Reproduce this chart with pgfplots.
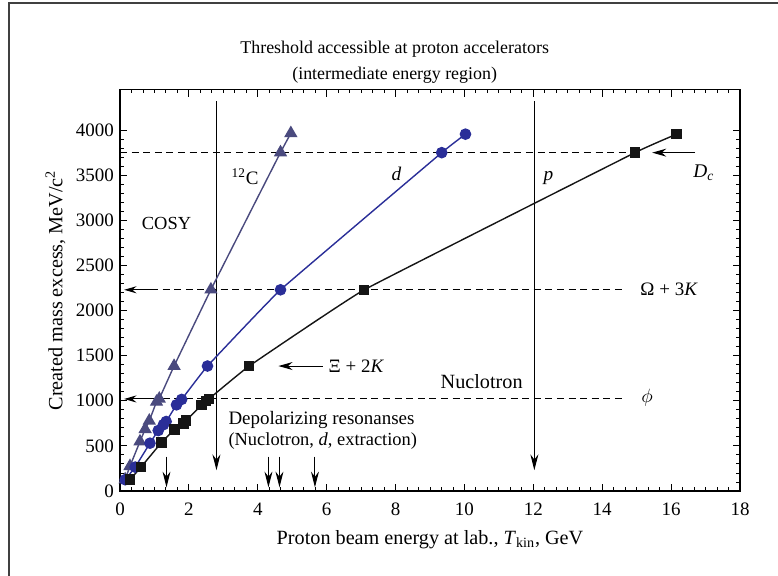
\documentclass[border=0pt]{standalone}
\usepackage{fontspec}
\setmainfont{Liberation Serif}
\usepackage{pgfplots}
\pgfplotsset{compat=1.18}
\usetikzlibrary{arrows.meta}
\definecolor{cC}{HTML}{4A4A7E}
\definecolor{cD}{HTML}{2A2E98}
\definecolor{cP}{HTML}{151515}
\begin{document}
\begin{tikzpicture}
\useasboundingbox (0,0) rectangle (15.56cm,11.52cm);
\draw[black!75, line width=0.6pt] (0.18cm,-1pt) -- (0.18cm,11.46cm) -- (15.6cm,11.46cm);
\begin{axis}[
  at={(2.4cm,1.7cm)}, anchor=south west,
  scale only axis, width=12.4cm, height=8.03cm,
  xmin=0, xmax=18, ymin=0, ymax=4450,
  xtick={0,2,...,18}, ytick={0,500,...,4000},
  minor x tick num=5, minor y tick num=4,
  tick align=inside,
  major tick length=4pt, minor tick length=2.2pt,
  every tick/.style={black, line width=0.5pt},
  axis line style={line width=0.7pt},
  /pgf/number format/assume math mode=true,
  /pgf/number format/1000 sep={},
  ticklabel style={font=\fontsize{10.8}{12}\selectfont},
  xticklabel style={yshift=-3.5pt},
  xlabel={Proton beam energy at lab., \textit{T}\textsubscript{kin}, GeV},
  ylabel={Created mass excess, MeV/c\textsuperscript{2}},
  label style={font=\fontsize{11.5}{13}\selectfont},
  xlabel style={yshift=-1pt},
  ylabel style={yshift=-1pt},
  title={Threshold accessible at proton accelerators\\[2.5pt](intermediate energy region)},
  title style={at={(axis description cs:0.443,1)}, anchor=south, align=center, yshift=-6pt, font=\fontsize{10.2}{12}\selectfont},
  clip=false,
]
% dashed threshold lines
\draw[dashed, dash pattern=on 4pt off 2.6pt, line width=0.6pt] (axis cs:0,3750) -- (axis cs:14.8,3750);
\draw[dashed, dash pattern=on 4pt off 2.6pt, line width=0.6pt] (axis cs:0.9,2230) -- (axis cs:14.66,2230);
\draw[dashed, dash pattern=on 4pt off 2.6pt, line width=0.6pt] (axis cs:0.9,1020) -- (axis cs:14.66,1020);
\draw[line width=0.6pt, -{Stealth[length=7pt,width=4pt]}] (axis cs:1.0,2230) -- (axis cs:0.12,2230);
\draw[line width=0.6pt, -{Stealth[length=7pt,width=4pt]}] (axis cs:1.0,1020) -- (axis cs:0.12,1020);
% vertical arrows
\draw[line width=0.6pt, -{Stealth[length=9pt,width=4.5pt]}] (axis cs:2.8,4320) -- (axis cs:2.8,230);
\draw[line width=0.6pt, -{Stealth[length=9pt,width=4.5pt]}] (axis cs:12.03,4320) -- (axis cs:12.03,230);
\draw[line width=0.6pt, -{Stealth[length=9pt,width=4.5pt]}] (axis cs:1.35,380) -- (axis cs:1.35,40);
\draw[line width=0.6pt, -{Stealth[length=9pt,width=4.5pt]}] (axis cs:4.31,380) -- (axis cs:4.31,40);
\draw[line width=0.6pt, -{Stealth[length=9pt,width=4.5pt]}] (axis cs:4.63,380) -- (axis cs:4.63,40);
\draw[line width=0.6pt, -{Stealth[length=9pt,width=4.5pt]}] (axis cs:5.66,380) -- (axis cs:5.66,40);
% other arrows
\draw[line width=0.6pt, -{Stealth[length=8pt,width=4.5pt]}] (axis cs:16.7,3750) -- (axis cs:15.45,3750);
\draw[line width=0.6pt, -{Stealth[length=8pt,width=4.5pt]}] (axis cs:5.88,1385) -- (axis cs:4.6,1385);
% series
\addplot[cC, line width=0.8pt, smooth, tension=0.15, mark=triangle*, mark size=3.6pt, mark options={fill=cC, draw=cC, solid}]
coordinates {(0.15,128)(0.29,275)(0.58,548)(0.73,685)(0.85,778)(1.06,988)(1.14,1022)(1.57,1385)(2.64,2232)(4.66,3752)(4.96,3965)};
\addplot[cD, line width=0.8pt, smooth, tension=0.15, mark=*, mark size=2.9pt, mark options={fill=cD, draw=cD, solid}]
coordinates {(0.15,125)(0.44,265)(0.87,530)(1.11,670)(1.26,735)(1.34,770)(1.64,955)(1.79,1015)(2.54,1385)(4.66,2230)(9.34,3750)(10.03,3955)};
\addplot[cP, line width=0.8pt, smooth, tension=0.15, mark=square*, mark size=2.6pt, mark options={fill=cP, draw=cP, solid}]
coordinates {(0.29,125)(0.61,265)(1.21,540)(1.58,680)(1.84,750)(1.92,780)(2.37,955)(2.50,995)(2.58,1020)(3.75,1385)(7.09,2230)(14.95,3750)(16.16,3955)};
% labels
\node[font=\fontsize{10.5}{12}\selectfont] at (axis cs:1.35,2970) {COSY};
\node[font=\fontsize{10.8}{12}\selectfont] at (axis cs:3.63,3480) {\textsuperscript{12}C};
\node[font=\fontsize{11}{12}\selectfont] at (axis cs:8.03,3520) {\textit{d}};
\node[font=\fontsize{11}{12}\selectfont] at (axis cs:12.44,3465) {\textit{p}};
\node[font=\fontsize{11.5}{12}\selectfont] at (axis cs:10.5,1215) {Nuclotron};
\node[font=\fontsize{10.8}{12}\selectfont, anchor=base west, inner sep=0pt] at (axis cs:3.14,742) {Depolarizing resonanses};
\node[font=\fontsize{10.5}{12}\selectfont, anchor=base west, inner sep=0pt] at (axis cs:3.14,500) {(Nuclotron, \textit{d}, extraction)};
\node[font=\fontsize{10.8}{12}\selectfont, anchor=west, inner sep=0pt] at (axis cs:6.05,1385) {Ξ + 2\textit{K}};
\node[font=\fontsize{10.8}{12}\selectfont, anchor=west, inner sep=0pt] at (axis cs:15.1,2230) {Ω + 3\textit{K}};
\node[font=\fontsize{11}{12}\selectfont] at (axis cs:15.3,1030) {$\phi$};
\node[font=\fontsize{11}{12}\selectfont] at (axis cs:16.95,3530) {\textit{D}\textsubscript{\textit{c}}};
\end{axis}
\end{tikzpicture}
\end{document}
